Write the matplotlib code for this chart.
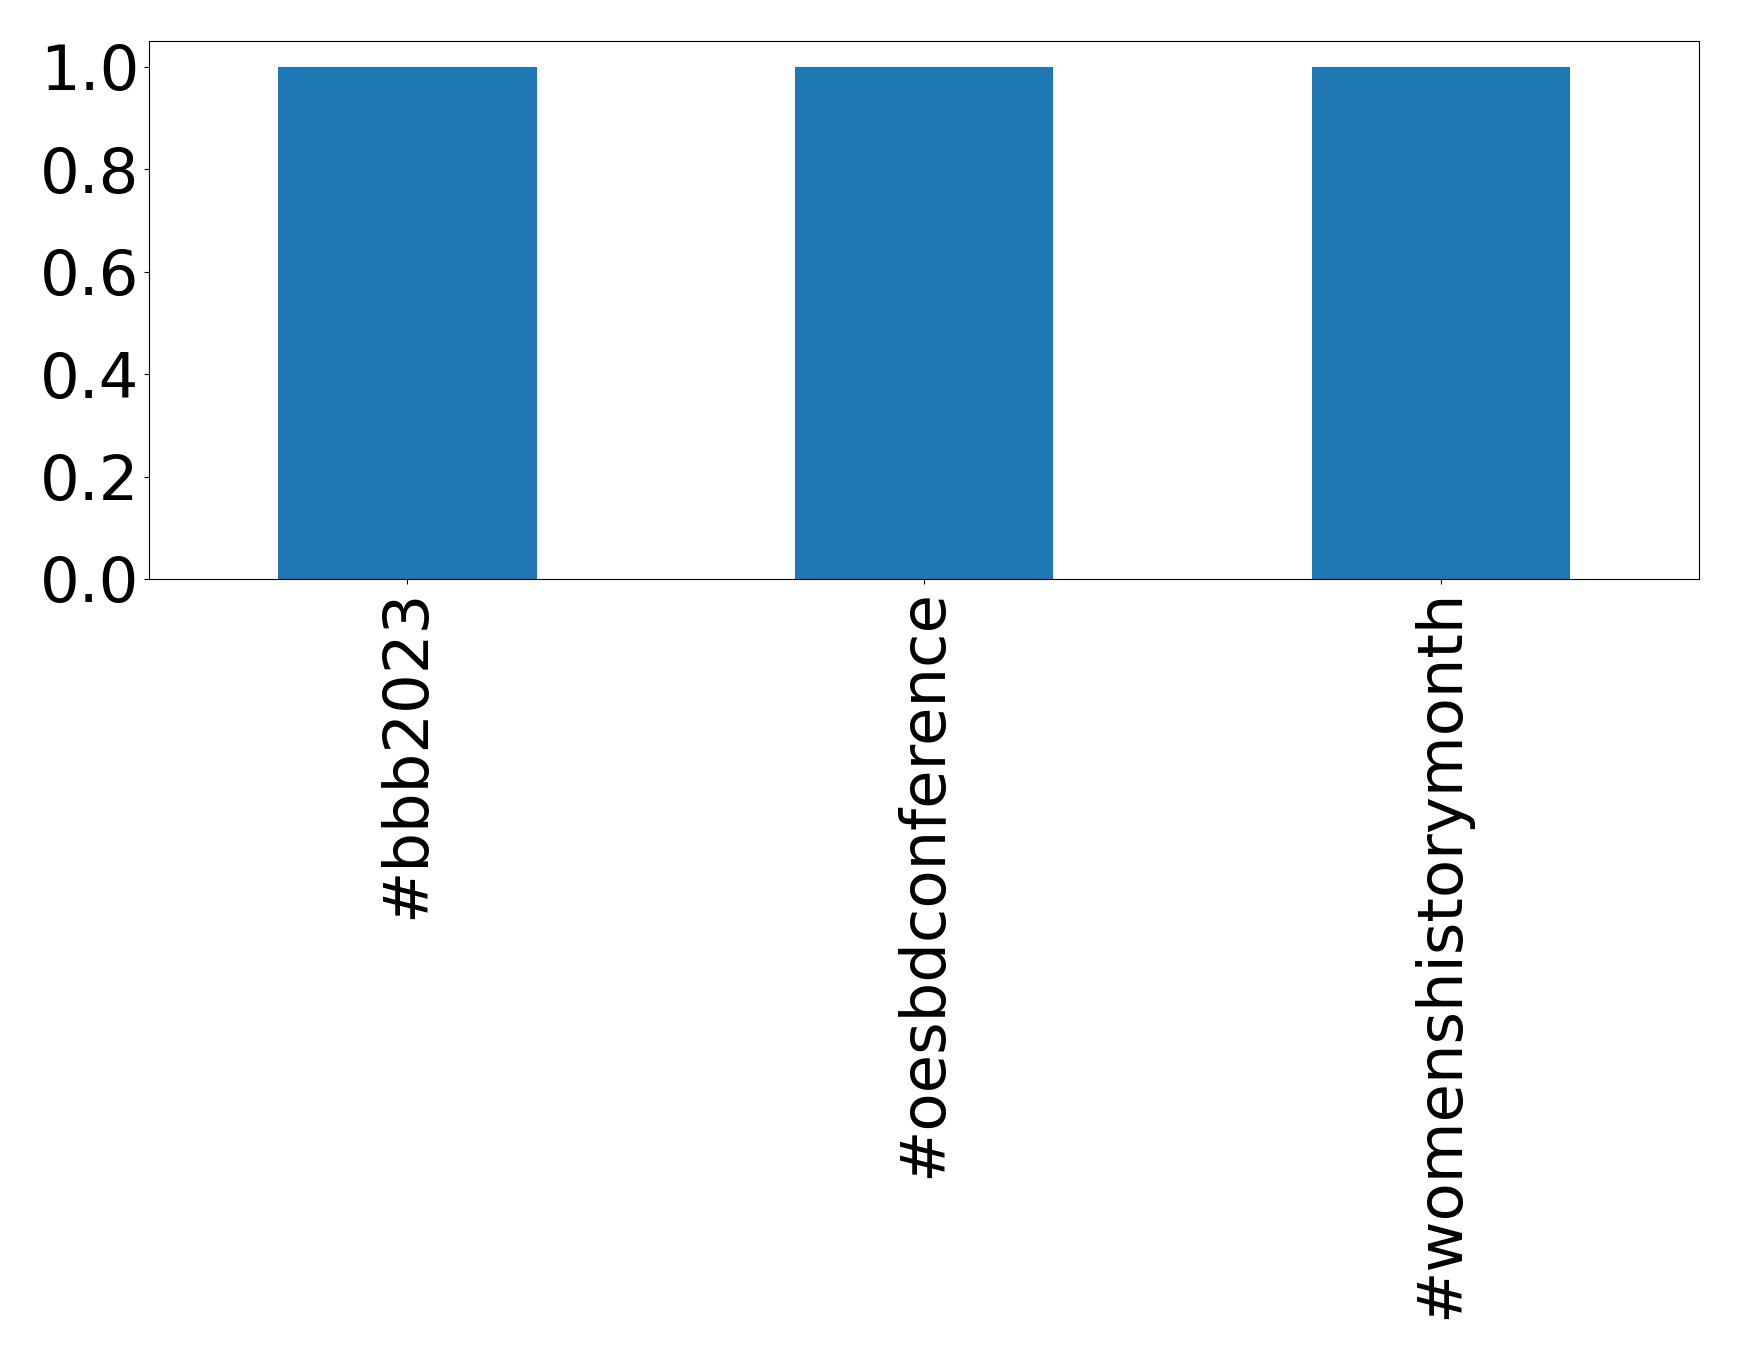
import pandas as pd
import matplotlib.pyplot as plt

# Hashtag counts
hashtags = ['#bbb2023', '#oesbdconference', '#womenshistorymonth']
counts = [1, 1, 1]
ytick_values = [0.0, 0.2, 0.4, 0.6, 0.8, 1.0]

data = pd.Series(counts, index=hashtags)

fig = plt.figure(figsize=(17.39, 13.59), dpi=100)
ax = fig.add_axes([149 / 1739, 1 - 579 / 1359, 1550 / 1739, 538 / 1359])
data.plot(kind='bar', ax=ax, color='#1f77b4')

ax.set_yticks(ytick_values)
ax.tick_params(axis='both', labelsize=45)
plt.xticks(rotation=90)

plt.savefig('out.png', dpi=100)
